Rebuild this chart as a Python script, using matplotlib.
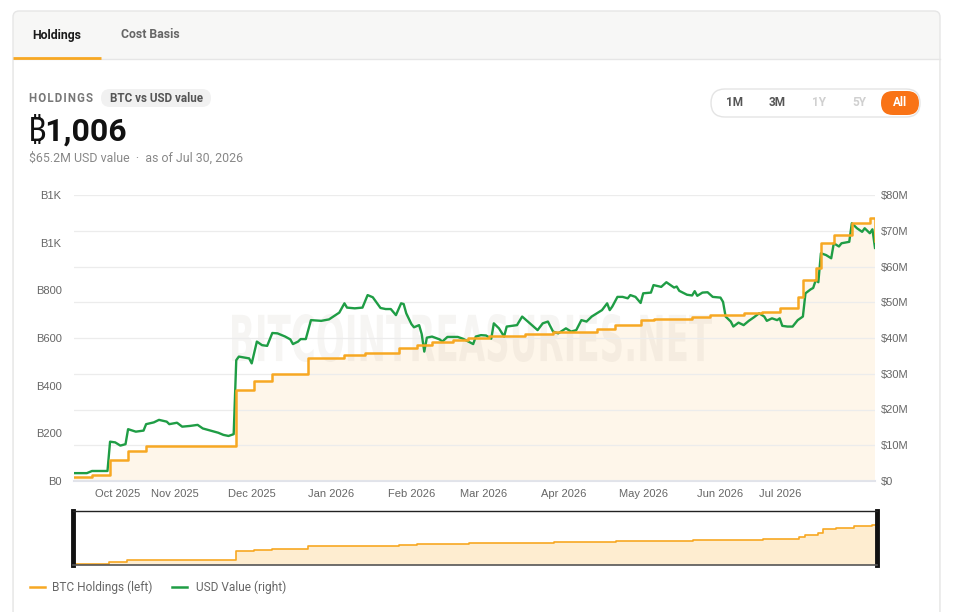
import matplotlib.pyplot as plt
from matplotlib.patches import FancyBboxPatch, PathPatch, Rectangle
from matplotlib.textpath import TextPath
from matplotlib.font_manager import FontProperties
from matplotlib.transforms import Affine2D

plt.rcParams['font.family'] = ['Roboto', 'Noto Sans', 'DejaVu Sans']

# x values are days counted from 2025-09-22 (day 311 = 2026-07-30)
btc_day = [0, 7, 14, 21, 28, 63, 70, 77, 91, 105, 113, 126, 133, 139, 147, 153,
           161, 175, 186, 203, 210, 220, 225, 240, 247, 260, 267, 274, 281, 283,
           288, 290, 295, 302, 309, 311]
btc_held = [18, 25, 88, 127, 148, 382, 421, 449, 514, 530, 538, 557, 571, 585, 592, 599,
            608, 617, 627, 637, 655, 676, 680, 689, 697, 704, 710, 725, 773, 843,
            892, 997, 1032, 1084, 1102, 1006]

usd_day = [0, 5, 7, 13, 14, 16, 18, 20, 21, 24, 27, 28, 31, 33, 36, 37, 40, 42, 45, 48,
           50, 53, 56, 58, 60, 62, 63, 64, 68, 69, 71, 73, 75, 77, 79, 82, 84, 85, 87, 88,
           90, 92, 96, 99, 103, 105, 106, 109, 112, 114, 116, 119, 121, 123, 125, 127, 128,
           129, 131, 132, 134, 135, 136, 137, 139, 142, 143, 145, 149, 151, 155, 156, 158,
           160, 162, 163, 165, 167, 168, 172, 174, 177, 180, 182, 184, 186, 188, 191, 193,
           195, 197, 199, 201, 203, 205, 207, 208, 209, 211, 213, 215, 216, 218, 220, 221,
           224, 225, 228, 230, 233, 234, 235, 238, 240, 241, 242, 244, 246, 248, 251, 252,
           253, 255, 256, 258, 260, 262, 264, 266, 268, 269, 271, 273, 274, 275, 277, 279,
           281, 283, 284, 286, 287, 288, 289, 290, 292, 294, 295, 297, 298, 301, 302, 304,
           306, 307, 309, 310, 311]
usd_value = [2.2, 2.2, 2.8, 2.8, 11.0, 10.8, 9.9, 10.3, 14.5, 13.8, 14.1, 15.9, 16.4, 17.1,
             16.6, 15.9, 16.3, 15.2, 15.4, 15.7, 14.7, 14.1, 13.5, 12.9, 12.6, 13.1, 33.8,
             34.8, 34.3, 32.9, 39.0, 38.0, 37.8, 41.4, 41.3, 40.4, 39.6, 38.3, 39.0, 39.7,
             39.7, 45.0, 44.8, 45.2, 47.1, 49.7, 48.5, 48.3, 48.5, 52.0, 51.4, 48.4, 48.1,
             48.1, 46.4, 49.7, 49.5, 46.9, 43.9, 43.0, 43.6, 41.1, 36.2, 40.1, 40.4, 39.6,
             39.0, 40.3, 40.3, 39.8, 38.3, 40.4, 40.8, 40.7, 39.8, 44.1, 42.7, 40.4, 43.2,
             43.6, 46.0, 44.1, 42.2, 44.1, 44.6, 41.8, 41.3, 42.7, 41.8, 42.2, 45.0, 44.6,
             46.0, 46.9, 47.8, 49.7, 47.8, 48.8, 51.5, 51.5, 51.1, 52.0, 51.5, 49.8, 52.5,
             52.7, 54.8, 54.3, 55.6, 54.1, 54.4, 53.2, 52.1, 51.9, 53.1, 51.8, 52.7, 52.8,
             51.5, 51.3, 50.1, 46.0, 44.6, 43.2, 44.3, 43.6, 44.8, 45.8, 46.9, 46.0, 44.8,
             45.5, 45.0, 45.5, 43.4, 43.2, 43.2, 45.0, 46.0, 52.5, 53.6, 54.0, 56.2, 55.6,
             63.7, 63.2, 62.3, 66.5, 65.6, 66.5, 66.9, 72.1, 70.7, 69.7, 70.7, 69.3, 70.4,
             65.2]

tick_day = [17, 39, 69, 100, 131, 159, 190, 221, 251, 274]
tick_label = ['Oct 2025', 'Nov 2025', 'Dec 2025', 'Jan 2026', 'Feb 2026', 'Mar 2026',
              'Apr 2026', 'May 2026', 'Jun 2026', 'Jul 2026']
btc_ticks = [0, 200, 400, 600, 800, 1000, 1200]
btc_tick_label = ['B0', 'B200', 'B400', 'B600', 'B800', 'B1K', 'B1K']
usd_ticks = [0, 10, 20, 30, 40, 50, 60, 70, 80]
usd_tick_label = ['$0'] + [f'${v}M' for v in usd_ticks[1:]]

ORANGE = '#f7a823'
GREEN = '#1f9d45'
FILL = '#fef6ea'
W, H = 955, 612

fig = plt.figure(figsize=(W / 100, H / 100), dpi=100)

# page / card in pixel coordinates
bg = fig.add_axes([0, 0, 1, 1], zorder=0)
bg.set_xlim(0, W)
bg.set_ylim(H, 0)
bg.axis('off')
bg.add_patch(FancyBboxPatch((13, 11), 927, 640, boxstyle='round,pad=0,rounding_size=6',
                            facecolor='#f7f7f6', edgecolor='#e6e6e6', lw=1))
bg.add_patch(Rectangle((13.6, 59), 925.8, 560, facecolor='white', edgecolor='none'))
bg.plot([13, 940], [59, 59], color='#e6e6e6', lw=1)
bg.plot([13, 101], [58, 58], color=ORANGE, lw=2, solid_capstyle='butt')
bg.text(57, 35, 'Holdings', fontsize=8.8, fontweight='bold', color='#1a1a1a', ha='center', va='center')
bg.text(150, 35, 'Cost Basis', fontsize=8.8, fontweight='bold', color='#666666', ha='center', va='center')

bg.text(29, 98, '\u200a'.join('HOLDINGS'), fontsize=8.3, fontweight='bold', color='#777777', va='center')
bg.add_patch(FancyBboxPatch((101, 89), 110, 18, boxstyle='round,pad=0,rounding_size=9',
                            facecolor='#f1f1f1', edgecolor='none'))
bg.text(156, 98, 'BTC vs USD value', fontsize=8.4, fontweight='bold', color='#555555', ha='center', va='center')
bg.text(28, 130, '₿1,006', fontsize=23, fontweight='bold', color='#111111', va='center')
bg.text(29, 158, '$65.2M USD value  ·  as of Jul 30, 2026', fontsize=8.9, color='#888888', va='center')

bg.add_patch(FancyBboxPatch((711, 89), 209, 28, boxstyle='round,pad=0,rounding_size=14',
                            facecolor='white', edgecolor='#e4e4e4', lw=1))
bg.add_patch(FancyBboxPatch((881, 91), 38, 24, boxstyle='round,pad=0,rounding_size=12',
                            facecolor='#f97316', edgecolor='none'))
for lbl, x, c in [('1M', 734, '#555555'), ('3M', 777, '#555555'), ('1Y', 819, '#d0d0d0'),
                  ('5Y', 859, '#d0d0d0'), ('All', 900, 'white')]:
    bg.text(x, 103, lbl, fontsize=8.5, fontweight='bold', color=c, ha='center', va='center')

# legend
bg.plot([30, 45], [587, 587], color=ORANGE, lw=1.8)
bg.text(52, 587, 'BTC Holdings (left)', fontsize=8.6, color='#666666', va='center')
bg.plot([172, 187], [587, 587], color=GREEN, lw=1.8)
bg.text(196, 587, 'USD Value (right)', fontsize=8.6, color='#666666', va='center')

# main chart
rect = [74 / W, (H - 481) / H, 801 / W, 286 / H]
ax = fig.add_axes(rect, zorder=1)
ax.patch.set_visible(False)
ax.fill_between(btc_day, btc_held, step='post', color=FILL, lw=0)
ax.set_xlim(0, 311)
ax.set_ylim(0, 1200)
ax.set_yticks(btc_ticks, btc_tick_label)
ax.set_xticks(tick_day, tick_label)
for s in ['top', 'left', 'right']:
    ax.spines[s].set_visible(False)
ax.spines['bottom'].set_color('#e1e3ea')
ax.spines['bottom'].set_linewidth(1.5)
ax.tick_params(axis='y', length=0, pad=9, labelsize=8, labelcolor='#666666')
ax.tick_params(axis='x', length=0, pad=6, labelsize=8, labelcolor='#666666')
for t in ax.get_xticklabels() + ax.get_yticklabels():
    t.set_fontfamily('Liberation Sans')

# watermark
fp = FontProperties(family='DejaVu Sans', weight='bold')
tp = TextPath((0, 0), 'BITCOINTREASURIES.NET', size=1, prop=fp)
ext = tp.get_extents()
wm_tf = (Affine2D().translate(-ext.x0, -ext.y0)
         .scale(480 / ext.width, 48 / ext.height)
         .translate(232, H - 362)
         .scale(1 / W, 1 / H) + fig.transFigure)
ax.add_patch(PathPatch(tp, transform=wm_tf, facecolor='#6b5a40', edgecolor='none', alpha=0.06, zorder=1.5))

ax2 = ax.twinx()
ax2.set_zorder(2)
ax2.plot(usd_day, usd_value, color=GREEN, lw=1.7, zorder=3)
ax2.set_ylim(0, 80)
ax2.set_yticks(usd_ticks, usd_tick_label)
ax2.grid(axis='y', color='#ececec', lw=0.9)
ax2.set_axisbelow(True)
for s in ax2.spines.values():
    s.set_visible(False)
ax2.tick_params(axis='y', length=0, pad=4, labelsize=8, labelcolor='#666666')
for t in ax2.get_yticklabels():
    t.set_fontfamily('Liberation Sans')

ax3 = ax.twinx()
ax3.set_zorder(3)
ax3.plot(btc_day, btc_held, drawstyle='steps-post', color=ORANGE, lw=1.8)
ax3.set_ylim(0, 1200)
ax3.yaxis.set_visible(False)
for s in ax3.spines.values():
    s.set_visible(False)

# navigator
nav = fig.add_axes([73 / W, (H - 565) / H, 804 / W, 54 / H], zorder=1)
nav.fill_between(btc_day, btc_held, step='post', color='#feedd0', lw=0)
nav.plot(btc_day, btc_held, drawstyle='steps-post', color=ORANGE, lw=1.2)
nav.set_xlim(0, 311)
nav.set_ylim(0, 1500)
nav.set_xticks([])
nav.set_yticks([])
nav.spines['top'].set_color('#222222')
nav.spines['top'].set_linewidth(1)
nav.spines['bottom'].set_color('#555555')
nav.spines['bottom'].set_linewidth(1.2)
for s in ['left', 'right']:
    nav.spines[s].set_color('#111111')
    nav.spines[s].set_linewidth(3.5)

fig.savefig('out.png', dpi=100)
